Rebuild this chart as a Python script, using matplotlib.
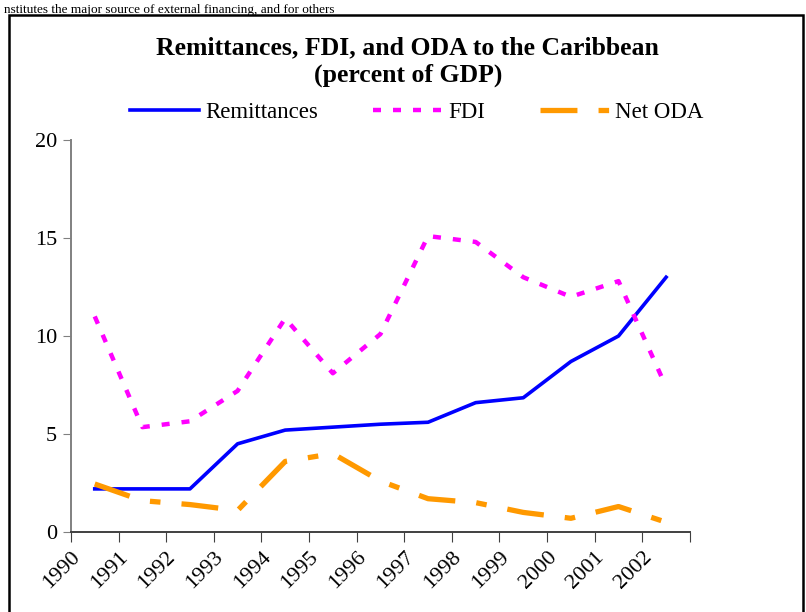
import matplotlib
matplotlib.use('Agg')
import matplotlib.pyplot as plt
import matplotlib.transforms as mtransforms
from matplotlib.patches import Rectangle

plt.rcParams['font.family'] = ['Liberation Serif', 'DejaVu Serif']

# Data (percent of GDP)
years = ['1990', '1991', '1992', '1993', '1994', '1995', '1996',
         '1997', '1998', '1999', '2000', '2001', '2002']
remittances = [2.2, 2.2, 2.2, 4.5, 5.2, 5.35, 5.5, 5.6, 6.6, 6.85, 8.7, 10.0, 13.0]
fdi = [11.0, 5.35, 5.65, 7.2, 10.9, 8.1, 10.1, 15.1, 14.8, 13.0, 12.0, 12.8, 7.4]
net_oda = [2.45, 1.6, 1.4, 1.1, 3.6, 4.0, 2.6, 1.7, 1.5, 1.0, 0.7, 1.3, 0.5]
y_ticks = [0, 5, 10, 15, 20]

fig = plt.figure(figsize=(8.06, 6.12), dpi=100)
ax = fig.add_axes([0.088, 0.1307, 0.768, 0.6405])

x = [i + 0.5 for i in range(len(years))]
ax.plot(x, remittances, color='#0000FF', lw=2.6, label='Remittances')
ax.plot(x, fdi, color='#FF00FF', lw=3.2, linestyle=(0, (1.8, 2.7)), label='FDI')
ax.plot(x, net_oda, color='#FF9900', lw=3.8, linestyle=(0, (7, 4, 2, 4)), label='Net ODA')

ax.set_xlim(0, len(years))
ax.set_ylim(0, 20)
ax.set_yticks(y_ticks)
ax.set_xticks(range(len(years) + 1))
ax.set_xticklabels(years + [''], rotation=45, ha='right', va='top',
                   rotation_mode='anchor', fontsize=16)
# Excel puts the slanted labels just right of each tick
offset = mtransforms.ScaledTranslation(25 / 100, 10 / 100, fig.dpi_scale_trans)
for lbl in ax.get_xticklabels():
    lbl.set_transform(lbl.get_transform() + offset)

ax.tick_params(axis='y', labelsize=16, length=6, color='#808080', pad=4)
ax.tick_params(axis='x', length=7, color='#404040', pad=4)
ax.spines['top'].set_visible(False)
ax.spines['right'].set_visible(False)
ax.spines['left'].set_color('#808080')
ax.spines['left'].set_linewidth(1.4)
ax.spines['bottom'].set_color('#404040')
ax.spines['bottom'].set_linewidth(1.4)

fig.text(0.506, 0.899, 'Remittances, FDI, and ODA to the Caribbean\n(percent of GDP)',
         ha='center', va='center', fontsize=18.5, fontweight='bold', linespacing=1.25)

ax.legend(loc='center', bbox_to_anchor=(0.517, 0.8154), bbox_transform=fig.transFigure,
          ncol=3, frameon=False, fontsize=16.5, handlelength=3.0, handletextpad=0.27,
          columnspacing=2.4, borderpad=0)

# chart frame and the body text line above it
fig.patches.append(Rectangle((0.011, -0.05), 0.985, 1.026, transform=fig.transFigure,
                             fill=False, edgecolor='black', lw=1.8))
fig.text(0.005, 1 - 12.5 / 612, 'nstitutes the major source of external financing, and for others',
         ha='left', va='baseline', fontsize=9.5)

fig.savefig('out.png', dpi=100)
